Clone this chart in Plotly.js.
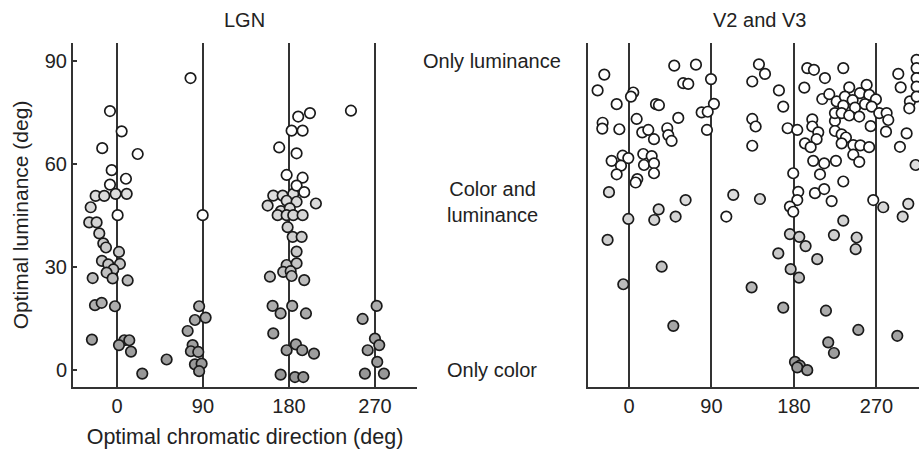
<!DOCTYPE html>
<html>
<head>
<meta charset="utf-8">
<script src="https://cdn.plot.ly/plotly-3.0.1.min.js"></script>
<style>html,body{margin:0;padding:0;background:#fff;}#chart{width:919px;height:449px;}</style>
</head>
<body>
<div id="chart"></div>
<script>
// ---------- Data (optimal chromatic direction, optimal luminance; degrees) ----------
const panelTitles = ["LGN", "V2 and V3"];
const xTickVals = [0, 90, 180, 270];
const xTickText = ["0", "90", "180", "270"];
const lgnYTickVals = [0, 30, 60, 90];
const lgnYTickText = ["0", "30", "60", "90"];
const v23Labels = ["Only luminance", "Color and<br>luminance", "Only color"];
const v23LabelLum = [90, 49, 0];
const xTitle = "Optimal chromatic direction (deg)";
const yTitle = "Optimal luminance (deg)";

// LGN – open symbols
const lgnOpenDir = [77, -7.3, 4.9, -15.4, 21.7, -5.5, 9.4, -7.3, 0.7, 89.7,
  244.9, 202, 189.7, 182.8, 194.3, 169.8, 188, 177.6, 194.3, 188, 196];
const lgnOpenLum = [85, 75.4, 69.5, 64.6, 62.9, 58.2, 55.7, 54, 45.1, 45.1,
  75.5, 74.8, 73.8, 69.7, 69.7, 64.8, 63.1, 56.8, 56, 53.7, 51.8];

// LGN – shaded symbols
const lgnFillDir = [-22.3, -13.3, -1.4, 10.2, -27.5, -29, -21.3, -18.5, -14.3, -11.5,
  2.1, -15.7, -9.1, 3.1, -3.8, -10.8, -25.4, -4.5, 11.2, -23, -16, -2.1,
  86, 81.6, 92.8, 74, -26.2, 7.7, 12.9, 2.1, 14.7, 79.2, 77.4, 85.1, 52, 81.6, 88.6, 86, 26.5,
  163.6, 173.4, 184.5, 177.6, 188, 157.7, 208.2, 171.6, 180.9, 168.2, 177.6, 184.5, 194.3,
  178.6, 183.9, 193.3, 188, 177.6, 188, 174, 181.8, 182.8, 160.1, 196, 162.9, 183.4,
  171.3, 197.8, 163.6, 187.3, 177.6, 193.9, 206.2, 171.3, 186.3, 195,
  271.8, 257.1, 270, 274.5, 262.4, 272.4, 259.5, 279.4];
const lgnFillLum = [50.7, 50.7, 51.3, 51.3, 47.4, 43, 43, 39.8, 36.9, 35.7,
  34.4, 31.8, 30.8, 30.9, 29.3, 28.4, 26.8, 26.7, 26.1, 18.9, 19.6, 18.6,
  18.6, 14.6, 15.3, 11.4, 8.9, 8.7, 8.7, 7.3, 5.4, 7.3, 5.5, 5.3, 3.1, 1.7, 1.9, -0.3, -1,
  50.8, 50.8, 51.3, 49.3, 49, 47.9, 48.5, 46.3, 47.1, 45.1, 45.1, 45.1, 45.1,
  41.6, 38.8, 38.8, 34.5, 30.6, 31.1, 28.6, 28.8, 27.4, 27.2, 26.2, 18.7, 18.7,
  16.5, 16.5, 10.7, 7.5, 5.8, 5.8, 4.8, -1.3, -2, -2,
  18.7, 14.9, 9.2, 7.3, 5.8, 2.4, -1, -1];

// V2 and V3 – open symbols
const v23OpenDir = [-26.9, -34.2, 4.7, 2.2, -13.4, 29.5, 32.7, 49.4, 73.1, 59.2,
  64.7, 89.5, 92.7, 79.3, 85.9, 85.1, 53.8, -28.7, -29.1, -10.5,
  8.4, 14.5, 21.1, 27.3, 41.8, 42.9, 46.5, -18.9, -6.9, -0.7,
  -8.7, -13.4, 15.6, 24.8, 16.4, 27.3, 27.3, 9.1, 7.3, 106.2,
  134.5, 134.5, 138.2, 134.5, 141.8, 148.4, 163.6, 168.3, 173.1, 183.6,
  191.3, 194.5, 201.8, 213.8, 233.8, 210.9, 200, 200, 206.5, 204.7,
  192, 198.2, 201, 213, 208.4, 225.8, 233.8, 224.7, 224.7, 224.7,
  232, 236.7, 232, 244.7, 244.7, 251.2, 252.4, 262, 263.7, 179.2,
  184.7, 183.6, 175.6, 179.2, 266.5, 295.6, 302.9, 280.4, 293.8, 296.4,
  306.5, 305.8, 313.8, 313.8, 313.8, 313.8, 313.8,
  240.3, 259.3, 252, 218.5, 226.6, 235.6, 244, 262.1, 269.4, 233.8,
  246.6, 257.5, 264.8, 232, 240.3, 251.2, 273, 281.1, 282.9, 202.9, 213, 221.1];
const v23OpenLum = [86, 81.4, 80.8, 79.6, 77.4, 77.4, 77.1, 88.6, 88.9, 83.5,
  83.3, 84.7, 77.5, 75, 75.2, 69.9, 73.4, 72, 70.3, 70.1,
  73.1, 69.2, 69.9, 67.2, 70.4, 68.4, 66.7, 60.9, 62.4, 61.7,
  59.5, 57, 62.9, 62.3, 59.7, 60.2, 57.3, 55.6, 54.6, 44.7,
  65.3, 73.1, 70.9, 84, 89, 86.2, 81.4, 76.7, 70.4, 69.9,
  82.2, 87.9, 87.4, 85, 87.9, 78.9, 73, 70.9, 69.2, 67.2,
  66, 64.9, 60.9, 60.2, 57, 60.9, 54.9, 72.5, 69.6, 74.8,
  68.6, 67.7, 66, 65.5, 62.7, 60.6, 65.4, 64.9, 71, 57.3,
  51.9, 49.5, 47.6, 46.1, 49.5, 65, 68.9, 69.4, 86.2, 82.3,
  78.2, 76.2, 90.3, 87.9, 85, 82.5, 79.6,
  82.3, 83, 80.6, 80.3, 78.2, 79.6, 78.6, 80.1, 78.8, 77,
  76.4, 77.4, 76.7, 74.8, 74.1, 73.8, 74.8, 74.8, 72.8, 51.5, 52.7, 49.2];

// V2 and V3 – shaded symbols
const v23FillDir = [-21.8, -0.7, 27.6, 32.4, 50.9, 61.8, 113.8, 142.9, 277.4, 304.7,
  298.6, 312.7, 233.8, -23.3, 35.7, -6.2, 48.4, 133.8, 175.6, 185.8,
  192.7, 162.9, 205.4, 176.4, 185.5, 223.6, 248.4, 247.3, 168.3, 214.9,
  250.2, 292.7, 217.4, 223.6, 181.1, 186.5, 183.6, 194.5];
const v23FillLum = [51.8, 44, 43.7, 46.8, 44.7, 49.5, 51, 49.8, 47.4, 48.4,
  44.7, 59.7, 43.5, 37.9, 30.1, 25, 12.9, 24.1, 39.6, 38.8,
  36.1, 34, 32.3, 29.4, 26.9, 39.3, 38.6, 35.2, 18.2, 17.3,
  11.7, 10, 8.1, 5, 2.4, 1.3, 0.8, 0];

// ---------- Styling ----------
const FONT = "Liberation Sans, Arial, Helvetica, sans-serif";
const INK = "#222";
const LINE = "#333";
const grayScale = [[0, "#969696"], [0.35, "#aaaaaa"], [0.6, "#c4c4c4"], [1, "#dedede"]];
const mk = (color, extra) => Object.assign({
  size: 10.5, color: color, line: {color: "#1a1a1a", width: 1.7}
}, extra || {});
const shaded = (lum) => mk(lum, {colorscale: grayScale, cmin: -2, cmax: 52, showscale: false});

const traces = [
  {x: lgnFillDir, y: lgnFillLum, xaxis: "x", yaxis: "y", type: "scatter", mode: "markers",
   marker: shaded(lgnFillLum), hoverinfo: "x+y", cliponaxis: false},
  {x: lgnOpenDir, y: lgnOpenLum, xaxis: "x", yaxis: "y", type: "scatter", mode: "markers",
   marker: mk("#ffffff"), hoverinfo: "x+y", cliponaxis: false},
  {x: v23FillDir, y: v23FillLum, xaxis: "x2", yaxis: "y2", type: "scatter", mode: "markers",
   marker: shaded(v23FillLum), hoverinfo: "x+y", cliponaxis: false},
  {x: v23OpenDir, y: v23OpenLum, xaxis: "x2", yaxis: "y2", type: "scatter", mode: "markers",
   marker: mk("#ffffff"), hoverinfo: "x+y", cliponaxis: false}
];

const xCommon = {
  tickmode: "array", tickvals: xTickVals, ticktext: xTickText,
  showgrid: true, gridcolor: LINE, gridwidth: 2,
  zeroline: false, showline: true, linecolor: LINE, linewidth: 2,
  ticks: "", tickfont: {family: FONT, size: 20, color: INK},
  fixedrange: true
};
const yCommon = {
  range: [-4.9, 95.2], showgrid: false, zeroline: false,
  showline: true, linecolor: LINE, linewidth: 2, fixedrange: true,
  domain: [0, 1]
};

const annotations = [
  {text: panelTitles[0], xref: "paper", yref: "paper", x: 0.2033, y: 1.067,
   xanchor: "center", yanchor: "middle", showarrow: false,
   font: {family: FONT, size: 20, color: INK}},
  {text: panelTitles[1], xref: "paper", yref: "paper", x: 0.812, y: 1.067,
   xanchor: "center", yanchor: "middle", showarrow: false,
   font: {family: FONT, size: 20, color: INK}}
];
v23Labels.forEach((t, i) => annotations.push({
  text: t, xref: "paper", yref: "y2", x: 0.4953, y: v23LabelLum[i],
  xanchor: "center", yanchor: "middle", align: "center", showarrow: false,
  font: {family: FONT, size: 20, color: INK}
}));

const layout = {
  width: 919, height: 449,
  margin: {l: 73, r: 0, t: 43, b: 62, pad: 0},
  paper_bgcolor: "#ffffff", plot_bgcolor: "#ffffff",
  showlegend: false,
  font: {family: FONT, size: 20, color: INK},
  xaxis: Object.assign({}, xCommon, {
    domain: [0, 0.4066], range: [-46, 314], anchor: "y",
    title: {text: xTitle, font: {family: FONT, size: 21.5, color: INK}, standoff: 13}
  }),
  yaxis: Object.assign({}, yCommon, {
    anchor: "x", tickmode: "array", tickvals: lgnYTickVals, ticktext: lgnYTickText,
    ticks: "inside", ticklen: 4, tickwidth: 1.5, tickcolor: LINE,
    tickfont: {family: FONT, size: 20, color: INK},
    title: {text: yTitle, font: {family: FONT, size: 21, color: INK}, standoff: 10}
  }),
  xaxis2: Object.assign({}, xCommon, {
    domain: [0.6084, 1], range: [-45, 316.4], anchor: "y2"
  }),
  yaxis2: Object.assign({}, yCommon, {
    anchor: "x2", showticklabels: false, ticks: ""
  }),
  annotations: annotations
};

Plotly.newPlot("chart", traces, layout, {displayModeBar: false, staticPlot: true});
</script>
</body>
</html>
